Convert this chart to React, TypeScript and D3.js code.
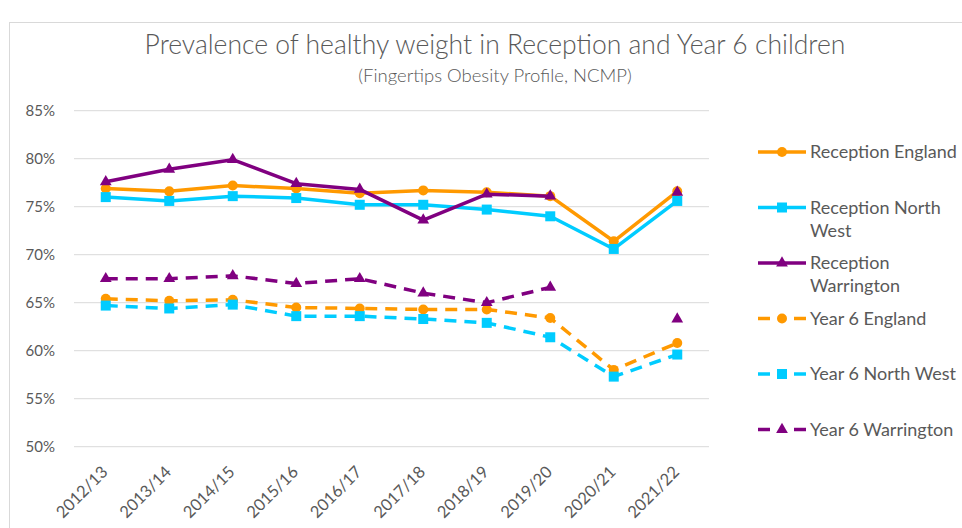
import React, { useRef, useEffect } from 'react';
import * as d3 from 'd3';

const years = ['2012/13', '2013/14', '2014/15', '2015/16', '2016/17', '2017/18', '2018/19', '2019/20', '2020/21', '2021/22'];
const yTicks = [50, 55, 60, 65, 70, 75, 80, 85];

const receptionEngland = [76.9, 76.6, 77.2, 76.9, 76.4, 76.7, 76.5, 76.1, 71.4, 76.6];
const receptionNorthWest = [76.0, 75.6, 76.1, 75.9, 75.2, 75.2, 74.7, 74.0, 70.6, 75.6];
const receptionWarrington = [77.6, 78.9, 79.9, 77.4, 76.8, 73.6, 76.3, 76.1, null, 76.5];
const year6England = [65.4, 65.2, 65.3, 64.5, 64.4, 64.3, 64.3, 63.4, 58.0, 60.8];
const year6NorthWest = [64.7, 64.4, 64.8, 63.6, 63.6, 63.3, 62.9, 61.4, 57.3, 59.6];
const year6Warrington = [67.5, 67.5, 67.8, 67.0, 67.5, 66.0, 65.0, 66.6, null, 63.3];

const series = [
  { name: ['Reception England'], values: receptionEngland, color: '#FF9900', marker: 'circle', dashed: false },
  { name: ['Reception North', 'West'], values: receptionNorthWest, color: '#00CCFF', marker: 'square', dashed: false },
  { name: ['Reception', 'Warrington'], values: receptionWarrington, color: '#800080', marker: 'triangle', dashed: false },
  { name: ['Year 6 England'], values: year6England, color: '#FF9900', marker: 'circle', dashed: true },
  { name: ['Year 6 North West'], values: year6NorthWest, color: '#00CCFF', marker: 'square', dashed: true },
  { name: ['Year 6 Warrington'], values: year6Warrington, color: '#800080', marker: 'triangle', dashed: true },
];

const W = 962;
const H = 528;
const FONT = 'Lato, "Open Sans", sans-serif';

const App = () => {
  const svgRef = useRef<SVGSVGElement>(null);

  useEffect(() => {
    const svg = d3.select(svgRef.current);
    svg.selectAll('*').remove();

    const x = d3.scalePoint<string>().domain(years).range([74, 709]).padding(0.5);
    const y = d3.scaleLinear().domain([50, 85]).range([446.7, 110.7]);

    // chart border
    svg.append('rect')
      .attr('x', 9.5).attr('y', 22.5)
      .attr('width', 970).attr('height', 530)
      .attr('fill', 'none').attr('stroke', '#D9D9D9');

    // title
    svg.append('text')
      .attr('x', 495).attr('y', 54)
      .attr('text-anchor', 'middle')
      .style('font-family', FONT).style('font-size', '26.5px').style('font-weight', 300)
      .attr('fill', '#595959')
      .text('Prevalence of healthy weight in Reception and Year 6 children');
    svg.append('text')
      .attr('x', 495).attr('y', 82)
      .attr('text-anchor', 'middle')
      .style('font-family', FONT).style('font-size', '18.5px').style('font-weight', 300)
      .attr('fill', '#595959')
      .text('(Fingertips Obesity Profile, NCMP)');

    // gridlines + y labels
    const grid = svg.append('g');
    grid.selectAll('line').data(yTicks).enter().append('line')
      .attr('x1', 74).attr('x2', 709)
      .attr('y1', d => y(d)).attr('y2', d => y(d))
      .attr('stroke', '#D9D9D9').attr('stroke-width', 1);
    grid.selectAll('text').data(yTicks).enter().append('text')
      .attr('x', 55).attr('y', d => y(d)).attr('dy', '0.35em')
      .attr('text-anchor', 'end')
      .style('font-family', FONT).style('font-size', '15px')
      .attr('fill', '#595959')
      .text(d => d + '%');

    // x labels
    svg.append('g').selectAll('text').data(years).enter().append('text')
      .attr('transform', d => `translate(${x(d)! - 1},${469}) rotate(-45)`)
      .attr('text-anchor', 'end').attr('dy', '0.35em')
      .style('font-family', FONT).style('font-size', '16.5px')
      .attr('fill', '#595959')
      .text(d => d);

    const drawMarker = (g, type, color) => {
      if (type === 'circle') {
        g.append('circle').attr('r', 5).attr('fill', color);
      } else if (type === 'square') {
        g.append('rect').attr('x', -5).attr('y', -5).attr('width', 10).attr('height', 10).attr('fill', color);
      } else {
        g.append('path').attr('d', d3.symbol(d3.symbolTriangle, 60)()).attr('fill', color);
      }
    };

    const line = d3.line<number | null>()
      .defined(d => d !== null)
      .x((d, i) => x(years[i])!)
      .y(d => y(d as number));

    // series lines and markers
    series.forEach(s => {
      const g = svg.append('g');
      g.append('path')
        .datum(s.values)
        .attr('d', line)
        .attr('fill', 'none')
        .attr('stroke', s.color)
        .attr('stroke-width', 3.5)
        .attr('stroke-linejoin', 'round')
        .attr('stroke-dasharray', s.dashed ? '12,8' : null);
      s.values.forEach((v, i) => {
        if (v === null) return;
        const m = g.append('g').attr('transform', `translate(${x(years[i])},${y(v)})`);
        drawMarker(m, s.marker, s.color);
      });
    });

    // legend
    const legend = svg.append('g');
    series.forEach((s, i) => {
      const ly = 152 + i * 55.5;
      const item = legend.append('g').attr('transform', `translate(0,${ly})`);
      if (s.dashed) {
        item.append('line').attr('x1', 758).attr('x2', 770).attr('stroke', s.color).attr('stroke-width', 3.5);
        item.append('line').attr('x1', 794).attr('x2', 806).attr('stroke', s.color).attr('stroke-width', 3.5);
      } else {
        item.append('line').attr('x1', 758).attr('x2', 806).attr('stroke', s.color).attr('stroke-width', 3.5);
      }
      drawMarker(item.append('g').attr('transform', 'translate(782,0)'), s.marker, s.color);
      s.name.forEach((t, j) => {
        item.append('text')
          .attr('x', 810).attr('y', j * 23).attr('dy', '0.35em')
          .style('font-family', FONT).style('font-size', '18px')
          .attr('fill', '#595959')
          .text(t);
      });
    });
  }, []);

  return (
    <svg ref={svgRef} width={W} height={H}
      style={{ position: 'absolute', left: 0, top: 0, background: '#fff' }} />
  );
};

export default App;
